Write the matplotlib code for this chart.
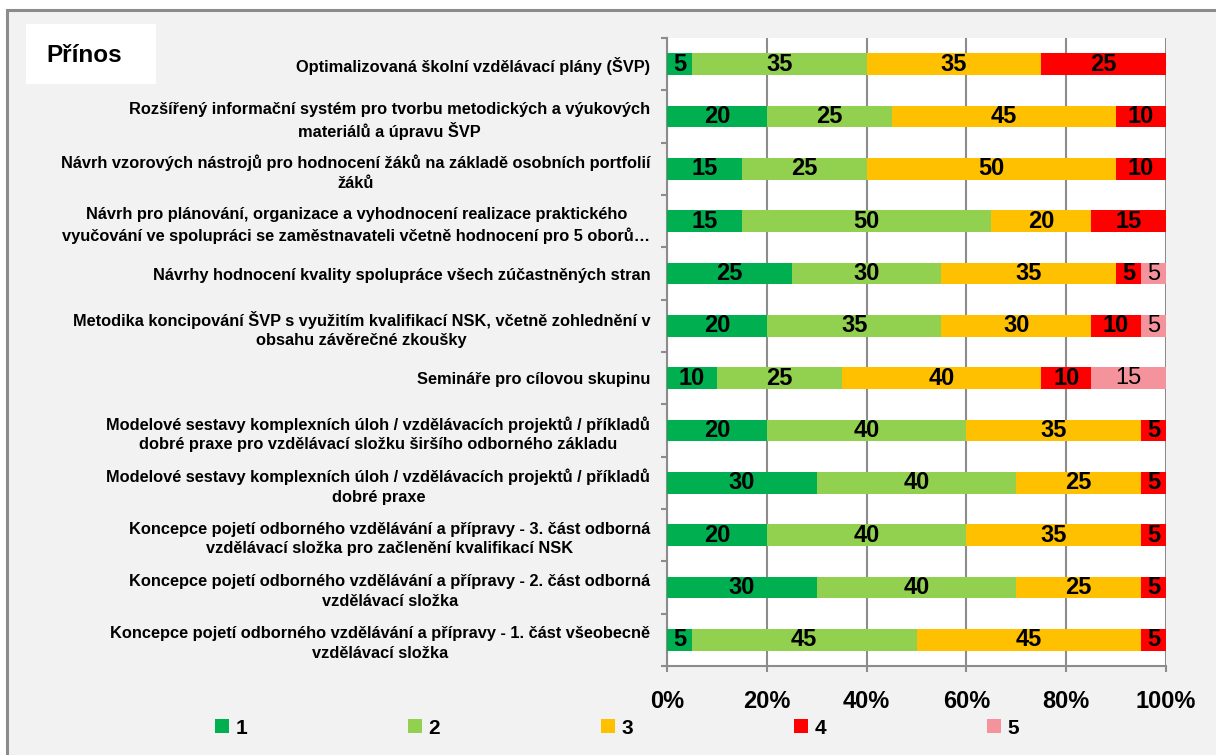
import matplotlib
matplotlib.use("Agg")
import matplotlib.pyplot as plt
from matplotlib.patches import Rectangle, Patch
import numpy as np

plt.rcParams['font.family'] = ['Liberation Sans', 'DejaVu Sans']

categories = [
    "Optimalizovaná školní vzdělávací plány (ŠVP)",
    "Rozšířený informační systém pro tvorbu metodických a výukových\nmateriálů a úpravu ŠVP",
    "Návrh vzorových nástrojů pro hodnocení žáků na základě osobních portfolií\nžáků",
    "Návrh pro plánování, organizace a vyhodnocení realizace praktického\nvyučování ve spolupráci se zaměstnavateli včetně hodnocení pro 5 oborů…",
    "Návrhy hodnocení kvality spolupráce všech zúčastněných stran",
    "Metodika koncipování ŠVP s využitím kvalifikací NSK, včetně zohlednění v\nobsahu závěrečné zkoušky",
    "Semináře pro cílovou skupinu",
    "Modelové sestavy komplexních úloh / vzdělávacích projektů / příkladů\ndobré praxe pro vzdělávací složku širšího odborného základu",
    "Modelové sestavy komplexních úloh / vzdělávacích projektů / příkladů\ndobré praxe",
    "Koncepce pojetí odborného vzdělávání a přípravy - 3. část odborná\nvzdělávací složka pro začlenění kvalifikací NSK",
    "Koncepce pojetí odborného vzdělávání a přípravy - 2. část odborná\nvzdělávací složka",
    "Koncepce pojetí odborného vzdělávání a přípravy - 1. část všeobecně\nvzdělávací složka",
]

series_names = ["1", "2", "3", "4", "5"]
s1 = [5, 20, 15, 15, 25, 20, 10, 20, 30, 20, 30, 5]
s2 = [35, 25, 25, 50, 30, 35, 25, 40, 40, 40, 40, 45]
s3 = [35, 45, 50, 20, 35, 30, 40, 35, 25, 35, 25, 45]
s4 = [25, 10, 10, 15, 5, 10, 10, 5, 5, 5, 5, 5]
s5 = [0, 0, 0, 0, 5, 5, 15, 0, 0, 0, 0, 0]
colors = ["#00B050", "#92D050", "#FFC000", "#FF0000", "#F4939B"]
xticks = [0, 20, 40, 60, 80, 100]
xticklabels = ["0%", "20%", "40%", "60%", "80%", "100%"]
title = "Přínos"

W, H = 1216, 755
fig = plt.figure(figsize=(W / 100, H / 100), dpi=100, facecolor="white")

# chart area background + border
fig.patches.append(Rectangle((7 / W, -0.05), 1.2, 1 - 10 / H + 0.05, transform=fig.transFigure,
                             facecolor="#F2F2F2", edgecolor="#8C8C8C", linewidth=2.2, zorder=-10))
# title box
fig.patches.append(Rectangle((26 / W, 1 - 84 / H), 130 / W, 60 / H, transform=fig.transFigure,
                             facecolor="white", edgecolor="none", zorder=-5))
fig.text(84 / W, 1 - 55 / H, title, ha="center", va="center", fontsize=17.5, fontweight="bold")

ax = fig.add_axes([667 / W, 1 - 666 / H, (1166 - 667) / W, (666 - 38) / H])
ax.set_zorder(2)
ax.set_facecolor("white")

data = np.array([s1, s2, s3, s4, s5], dtype=float)
y = np.arange(len(categories))
left = np.zeros(len(categories))
for i, (vals, col) in enumerate(zip(data, colors)):
    ax.barh(y, vals, left=left, height=0.41, color=col, edgecolor="none", zorder=3)
    for j, v in enumerate(vals):
        if v > 0:
            ax.text(left[j] + v / 2, y[j], f"{int(v)}", ha="center", va="center",
                    fontsize=17, fontweight="normal" if i == 4 else "bold",
                    color="black", zorder=4)
    left = left + vals

ax.set_xlim(0, 100)
ax.set_ylim(len(categories) - 0.5, -0.5)

ax.set_xticks(xticks)
ax.set_xticklabels(xticklabels, fontsize=17, fontweight="bold")
ax.tick_params(axis="x", length=4, width=1.5, color="#8C8C8C", pad=13)

ax.set_yticks(y)
ax.set_yticklabels(categories, fontsize=11.8, fontweight="bold", multialignment="center",
                   linespacing=1.38)
ax.tick_params(axis="y", length=0, pad=12)
ax.set_yticks(np.arange(len(categories) + 1) - 0.5, minor=True)
ax.tick_params(axis="y", which="minor", length=4, width=1.5, color="#8C8C8C")

ax.grid(axis="x", color="#8C8C8C", linewidth=1.5, zorder=1)
ax.set_axisbelow(True)
for s in ["top", "right"]:
    ax.spines[s].set_visible(False)
for s in ["left", "bottom"]:
    ax.spines[s].set_color("#8C8C8C")
    ax.spines[s].set_linewidth(1.5)

handles = [Patch(facecolor=c, edgecolor="none") for c in colors]
fig.legend(handles, series_names, loc="center left", bbox_to_anchor=(215 / W, 1 - 728 / H),
           ncol=5, frameon=False, prop={"size": 15, "weight": "bold"},
           handlelength=0.68, handleheight=0.68, handletextpad=0.3,
           columnspacing=7.72, borderpad=0, borderaxespad=0)

fig.savefig("out.png", dpi=100, facecolor=fig.get_facecolor())
